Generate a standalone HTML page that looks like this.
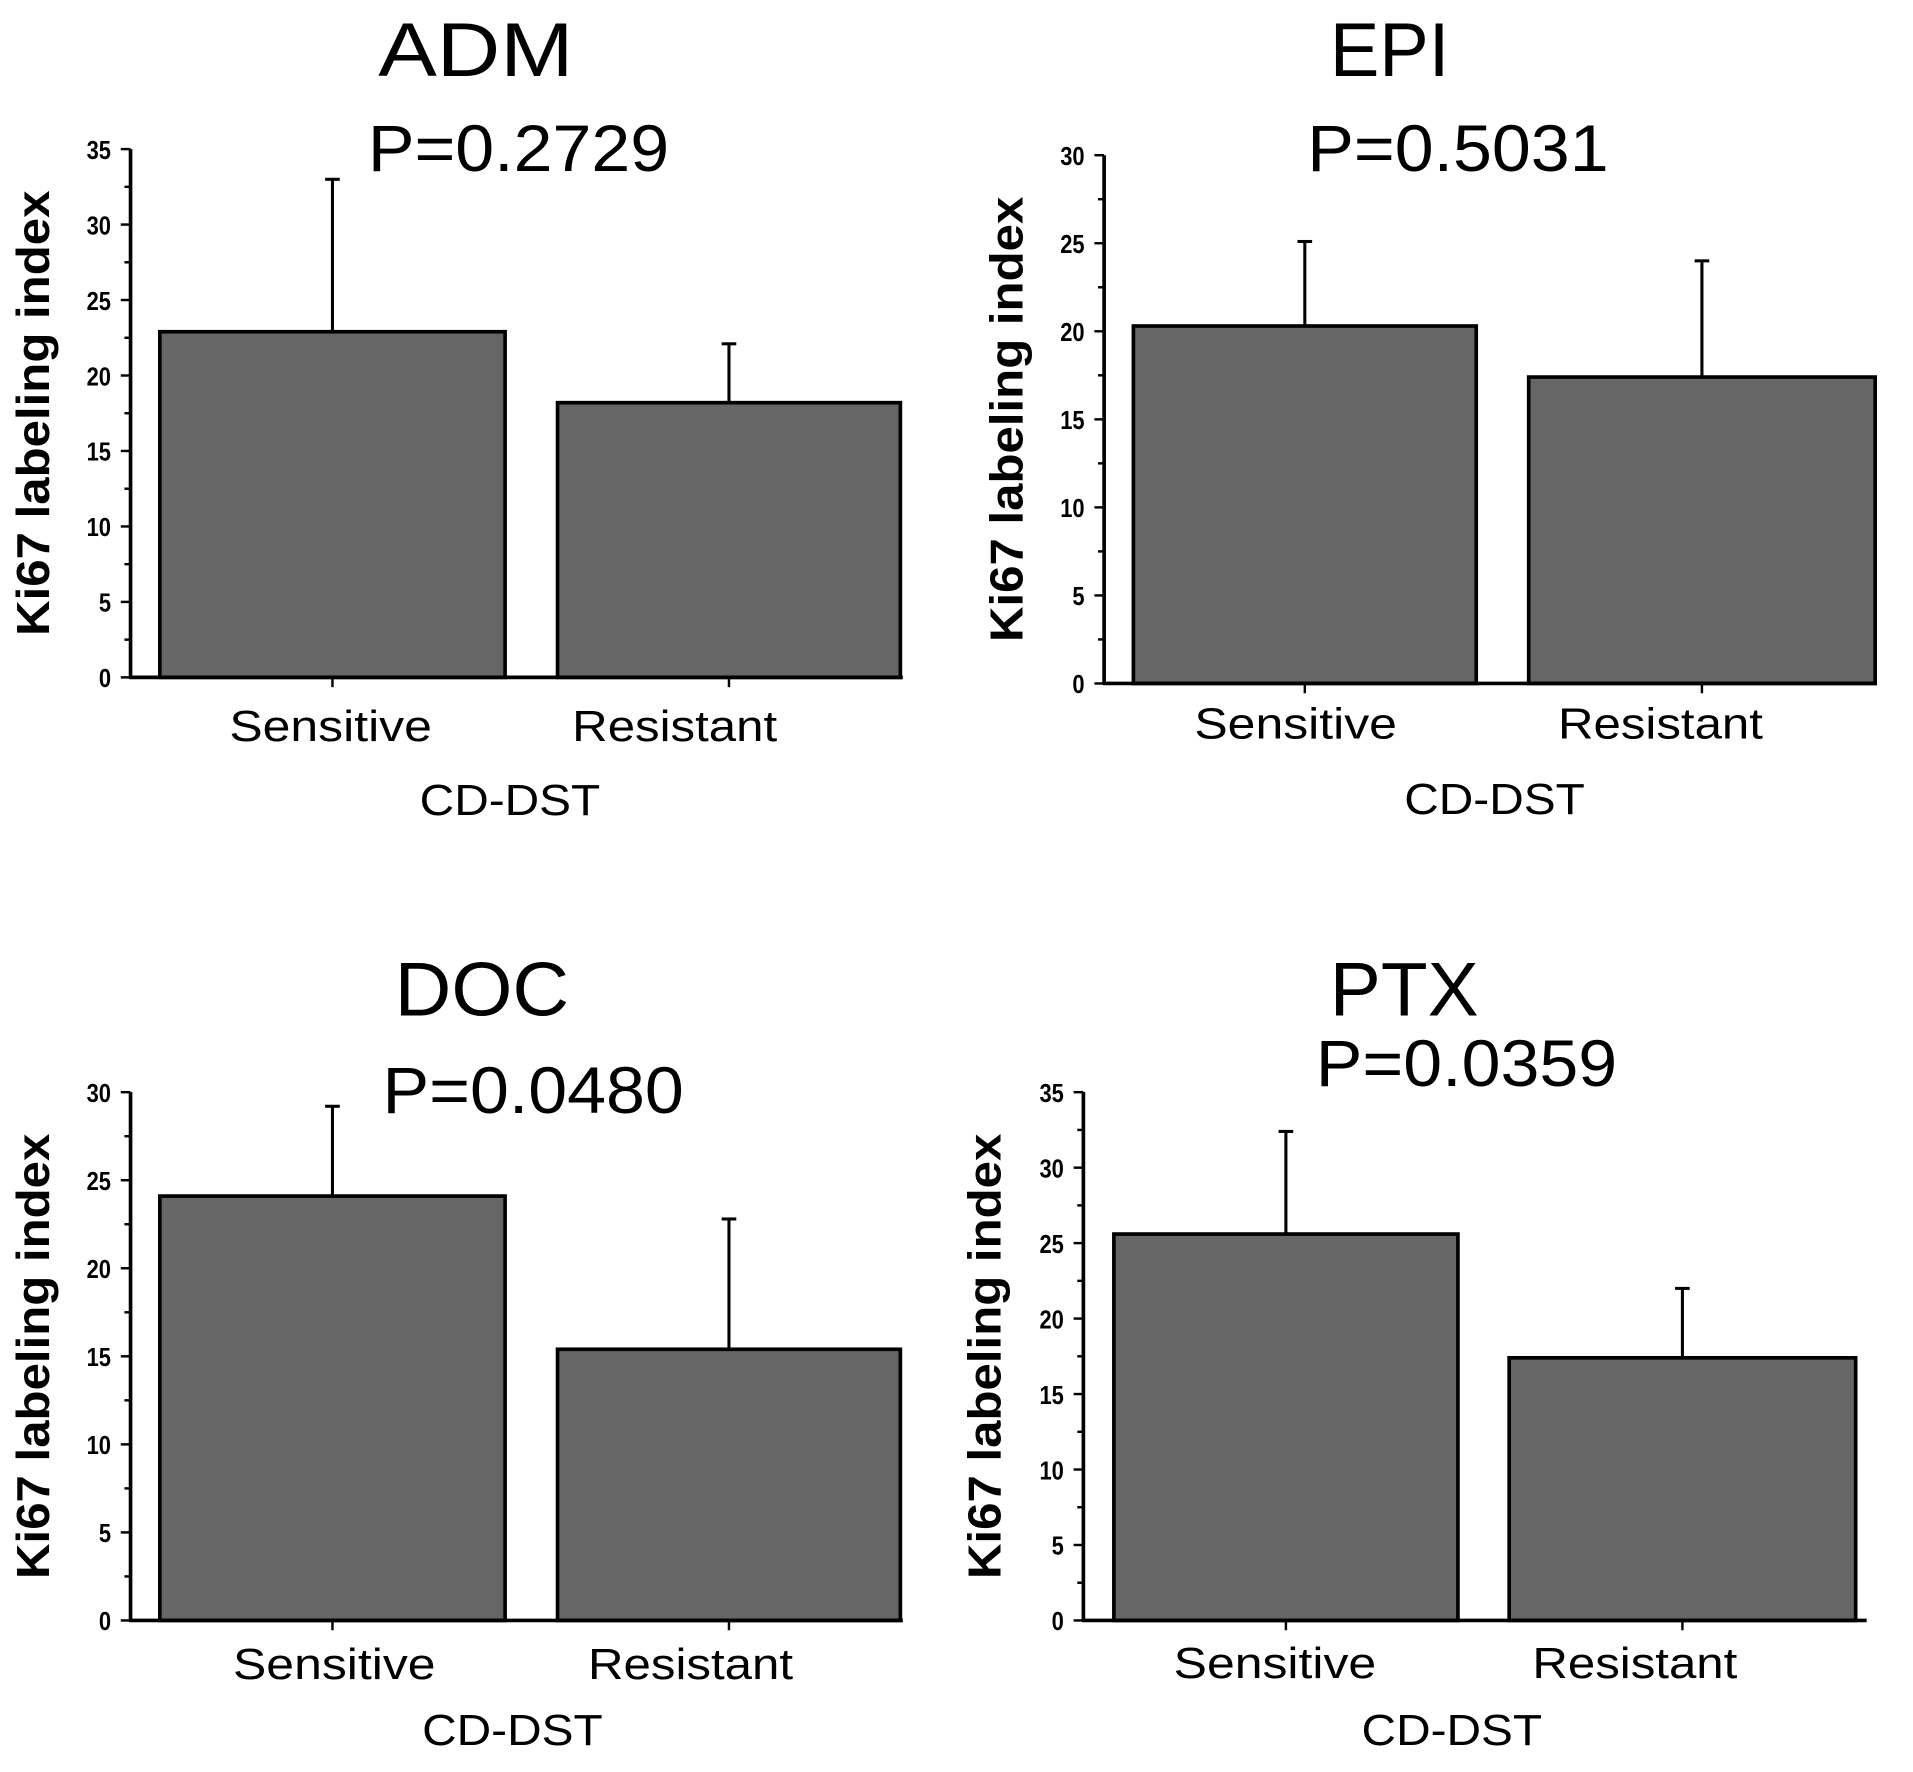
<!DOCTYPE html>
<html><head><meta charset="utf-8"><style>
html,body{margin:0;padding:0;background:#fff;}
svg{display:block;}
text{font-family:"Liberation Sans",sans-serif;fill:#000;}
</style></head><body>
<svg id="fig" width="1913" height="1772" viewBox="0 0 1568 1452" xmlns="http://www.w3.org/2000/svg"></svg>
<script>
const panelNames = ["ADM","EPI","DOC","PTX"];
const pValues = ["P=0.2729","P=0.5031","P=0.0480","P=0.0359"];
const categories = ["Sensitive","Resistant"];
const meansADM = [22.9, 18.2]; const errADM = [33.0, 22.1];
const meansEPI = [20.3, 17.4]; const errEPI = [25.1, 24.0];
const meansDOC = [24.1, 15.4]; const errDOC = [29.2, 22.8];
const meansPTX = [25.6, 17.4]; const errPTX = [32.4, 22.0];
const yMaxes = [35, 30, 30, 35];

const layouts = [
 {ax:107, top:122, bot:555, right:740, bars:[[131,414],[457,738]], tx:390, ty:62, tw:160, px:425, py:140, cl:[271,553], cly:607, xt:418, xty:668, ylx:40},
 {ax:905, top:127, bot:560, right:1538, bars:[[929,1210],[1253,1537]], tx:1139, ty:62, tw:98, px:1195, py:140, cl:[1062,1361], cly:605, xt:1225, xty:667, ylx:838},
 {ax:107, top:895, bot:1328, right:740, bars:[[131,414],[457,738]], tx:395, ty:832, tw:143, px:437, py:912, cl:[274,566], cly:1376, xt:420, xty:1430, ylx:40},
 {ax:888, top:895, bot:1328, right:1530, bars:[[913,1195],[1237,1521]], tx:1151, ty:832, tw:122, px:1202, py:890, cl:[1045,1340], cly:1375, xt:1190, xty:1430, ylx:820}
];
const allMeans=[meansADM,meansEPI,meansDOC,meansPTX];
const allErr=[errADM,errEPI,errDOC,errPTX];
const NS="http://www.w3.org/2000/svg";
const svg=document.getElementById('fig');
function mk(tag,attrs,parent,txt){const e=document.createElementNS(NS,tag);for(const k in attrs)e.setAttribute(k,attrs[k]);if(txt!==undefined)e.textContent=txt;parent.appendChild(e);return e;}
panelNames.forEach((name,i)=>{
  const L=layouts[i], ymax=yMaxes[i];
  const y=v=>L.bot-(v/ymax)*(L.bot-L.top);
  const g=mk('g',{},svg);
  
  
  let t=mk('text',{x:L.tx,y:L.ty,'text-anchor':'middle','font-size':62,textLength:L.tw,lengthAdjust:'spacingAndGlyphs'},g,name);
  
  
  t=mk('text',{x:L.px,y:L.py,'text-anchor':'middle','font-size':54,textLength:247,lengthAdjust:'spacingAndGlyphs'},g,pValues[i]);
  
  
  categories.forEach((c,j)=>{
    const [x0,x1]=L.bars[j]; const cx=(x0+x1)/2;
    const ey=y(allErr[i][j]);
    let l=mk('line',{x1:cx,x2:cx,y1:ey,y2:y(allMeans[i][j]),stroke:'#000','stroke-width':2.5},g);
    
    
    l=mk('line',{x1:cx-6,x2:cx+6,y1:ey,y2:ey,stroke:'#000','stroke-width':2.5},g);
    
    
    const r=mk('rect',{x:x0,y:y(allMeans[i][j]),width:x1-x0,height:L.bot-y(allMeans[i][j]),fill:'#666',stroke:'#000','stroke-width':3},g);
    
    
    const ct=mk('text',{x:L.cl[j],y:L.cly,'text-anchor':'middle','font-size':36,textLength:c==="Sensitive"?166:168,lengthAdjust:'spacingAndGlyphs'},g,c);
    
    
    mk('line',{x1:cx,x2:cx,y1:L.bot,y2:L.bot+8,stroke:'#000','stroke-width':2},g);
  });
  let a=mk('line',{x1:L.ax,x2:L.ax,y1:L.top,y2:L.bot+1,stroke:'#000','stroke-width':3},g);
  
  
  a=mk('line',{x1:L.ax-1,x2:L.right,y1:L.bot,y2:L.bot,stroke:'#000','stroke-width':3},g);
  
  
  for(let v=0;v<=ymax;v+=2.5){
    const major=(v%5===0);
    mk('line',{x1:L.ax-(major?8:5),x2:L.ax,y1:y(v),y2:y(v),stroke:'#000','stroke-width':2},g);
    if(major){
      const s=String(v);
      const tl=mk('text',{x:L.ax-16,y:y(v)+8,'text-anchor':'end','font-size':21,'font-weight':'bold',textLength:s.length*10,lengthAdjust:'spacingAndGlyphs'},g,s);
      
      
    }
  }
  const yl=mk('text',{x:L.ylx,y:(L.top+L.bot)/2,'text-anchor':'middle','font-size':38,'font-weight':'bold',transform:`rotate(-90 ${L.ylx} ${(L.top+L.bot)/2})`,textLength:365,lengthAdjust:'spacingAndGlyphs'},g,"Ki67 labeling index");
  
  
  const xl=mk('text',{x:L.xt,y:L.xty,'text-anchor':'middle','font-size':36,textLength:148,lengthAdjust:'spacingAndGlyphs'},g,"CD-DST");
  
  
});
</script>
</body></html>
